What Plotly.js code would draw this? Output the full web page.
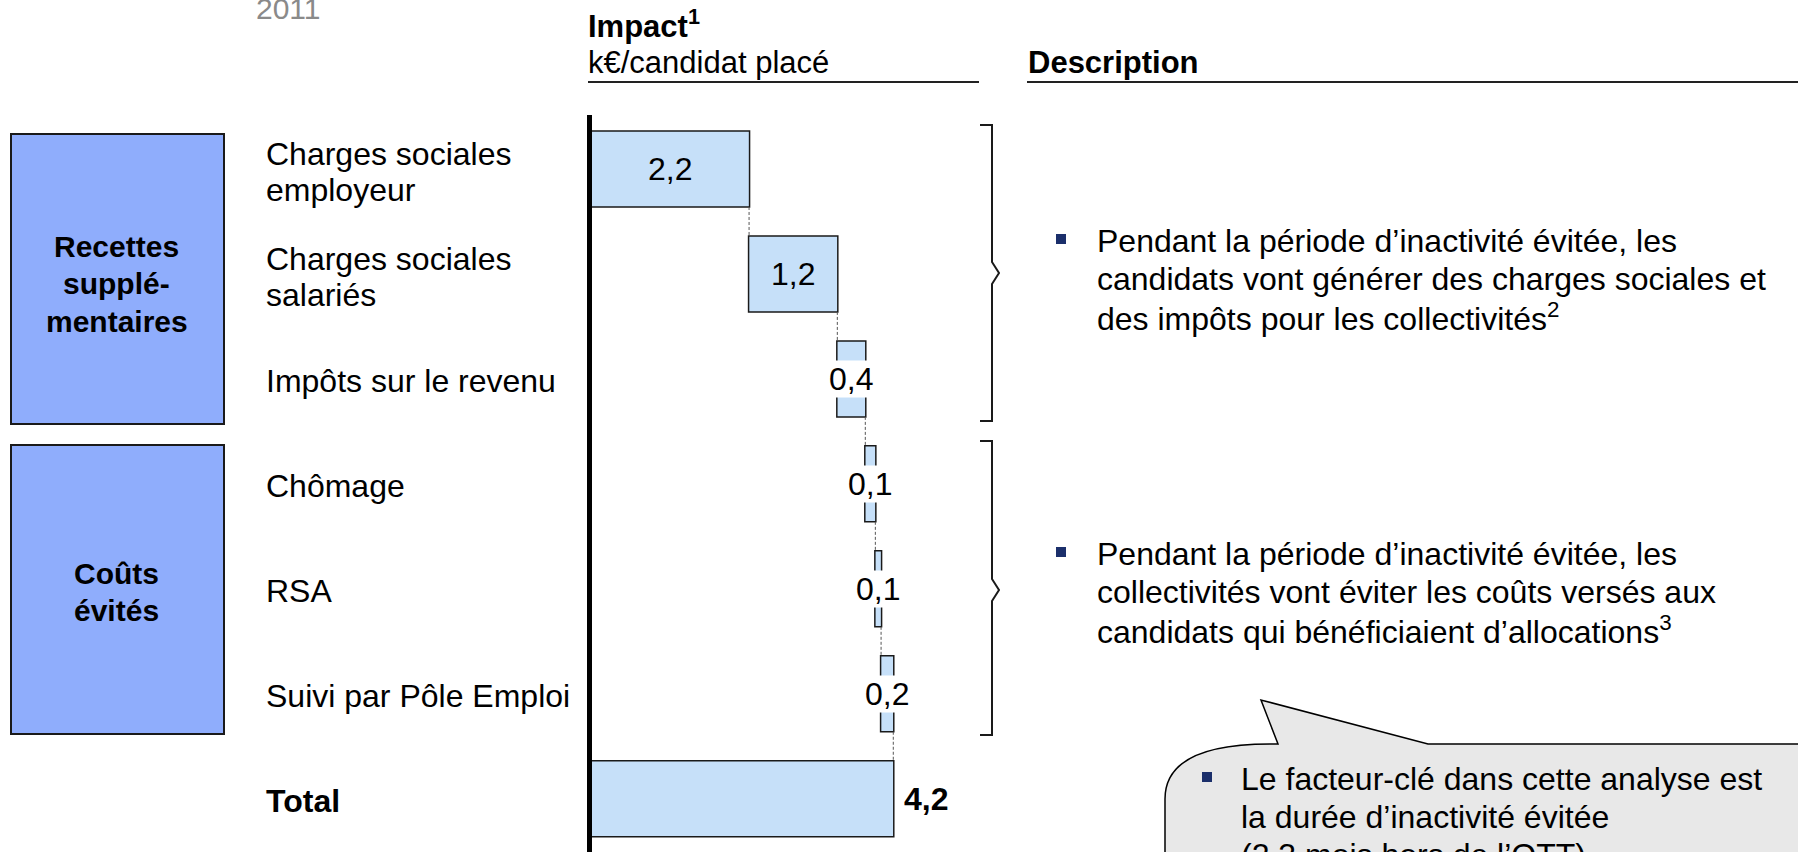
<!DOCTYPE html>
<html>
<head>
<meta charset="utf-8">
<script src="https://cdn.plot.ly/plotly-3.0.1.min.js"></script>
<style>html,body{margin:0;padding:0;background:#fff;}#chart{width:1798px;height:852px;}</style>
</head>
<body>
<div id="chart"></div>
<script>
// ---------- data ----------
const categories = ["Charges sociales employeur", "Charges sociales salariés", "Impôts sur le revenu", "Chômage", "RSA", "Suivi par Pôle Emploi", "Total"];
const categoryLines = [["Charges sociales", "employeur"], ["Charges sociales", "salariés"], ["Impôts sur le revenu"], ["Chômage"], ["RSA"], ["Suivi par Pôle Emploi"], ["<b>Total</b>"]];
const values = [2.21, 1.23, 0.39, 0.14, 0.08, 0.17];
const valueLabels = ["2,2", "1,2", "0,4", "0,1", "0,1", "0,2"];
const totalLabel = "4,2";
const groupNames = [["Recettes", "supplé-", "mentaires"], ["Coûts", "évités"]];
const descRecettes = ["Pendant la période d’inactivité évitée, les", "candidats vont générer des charges sociales et", "des impôts pour les collectivités<sup>2</sup>"];
const descCouts = ["Pendant la période d’inactivité évitée, les", "collectivités vont éviter les coûts versés aux", "candidats qui bénéficiaient d’allocations<sup>3</sup>"];
const calloutLines = ["Le facteur-clé dans cette analyse est", "la durée d’inactivité évitée", "(2,3 mois hors de l’OTT)"];
const headerTitle = "Impact<sup>1</sup>";
const headerUnit = "k€/candidat placé";
const headerDesc = "Description";
const yearLabel = "2011";

// ---------- helpers ----------
const W = 1798, H = 852;
const FONT = "Liberation Sans, Arial, sans-serif";
const px = x => x / W, py = y => 1 - y / H;
function T(text, x, y, o) {
  return Object.assign({xref: 'paper', yref: 'paper', x: px(x), y: py(y), text: text, showarrow: false,
    xanchor: 'left', yanchor: 'middle', borderpad: 0, font: {family: FONT, size: 32, color: '#000'}}, o || {});
}
function P(pts) { return pts.map((p, i) => (i ? 'L' : 'M') + px(p[0]) + ',' + py(p[1])).join(' '); }

const BAR_FILL = '#c6e0f9', EDGE = '#1a1a1a', BOX_FILL = '#8fadfc', NAVY = '#1b2f6b';

// ---------- trace ----------
const measures = values.map(() => 'relative').concat(['total']);
const trace = {
  type: 'waterfall', orientation: 'h',
  y: categories, x: values.concat([0]), measure: measures,
  textinfo: 'none', hoverinfo: 'skip',
  connector: {mode: 'between', line: {color: '#555', width: 1, dash: '3px,2px'}},
  increasing: {marker: {color: BAR_FILL, line: {color: EDGE, width: 1.5}}},
  decreasing: {marker: {color: BAR_FILL, line: {color: EDGE, width: 1.5}}},
  totals: {marker: {color: BAR_FILL, line: {color: EDGE, width: 1.5}}}
};

// ---------- annotations ----------
const ann = [];
let cum = 0;
values.forEach((v, i) => {
  const mid = cum + v / 2; cum += v;
  const narrow = v < 0.7;
  ann.push({xref: 'x', yref: 'y', x: mid, y: categories[i], text: valueLabels[i], showarrow: false,
    xanchor: 'center', yanchor: 'middle', borderpad: 0, bgcolor: narrow ? '#ffffff' : 'rgba(0,0,0,0)',
    font: {family: FONT, size: 32, color: '#000'}});
});
ann.push({xref: 'x', yref: 'y', x: cum, y: categories[6], text: '<b>' + totalLabel + '</b>', showarrow: false,
  xanchor: 'left', yanchor: 'middle', xshift: 9, font: {family: FONT, size: 32, color: '#000'}});
categoryLines.forEach((lines, i) => {
  const shifts = lines.length === 2 ? [15, -21] : [-2];
  lines.forEach((l, j) => ann.push({xref: 'paper', yref: 'y', x: px(265), y: categories[i], yshift: shifts[j],
    text: l, showarrow: false, xanchor: 'left', yanchor: 'middle', borderpad: 0, font: {family: FONT, size: 32, color: '#000'}}));
});
const groupCenters = [284, 592];
groupNames.forEach((lines, g) => {
  const n = lines.length;
  lines.forEach((l, j) => ann.push(T('<b>' + l + '</b>', 117, groupCenters[g] + (j - (n - 1) / 2) * 37.5, {xanchor: 'center', font: {family: FONT, size: 30, color: '#000'}})));
});
ann.push(T(yearLabel, 255, 8, {font: {family: FONT, size: 30, color: '#8a8a8a'}}));
ann.push(T('<b>' + headerTitle + '</b>', 587, 24, {font: {family: FONT, size: 31, color: '#000'}}));
ann.push(T(headerUnit, 587, 62, {font: {family: FONT, size: 31, color: '#000'}}));
ann.push(T('<b>' + headerDesc + '</b>', 1027, 62, {font: {family: FONT, size: 31, color: '#000'}}));
descRecettes.forEach((l, j) => ann.push(T(l, 1096, 241 + j * 37.8)));
descCouts.forEach((l, j) => ann.push(T(l, 1096, 554 + j * 37.8)));
calloutLines.forEach((l, j) => ann.push(T(l, 1240, 779 + j * 37.8)));

// ---------- shapes ----------
const shapes = [];
shapes.push({type: 'rect', xref: 'paper', yref: 'paper', x0: px(11), x1: px(224), y0: py(134), y1: py(424), fillcolor: BOX_FILL, line: {color: EDGE, width: 2}, layer: 'below'});
shapes.push({type: 'rect', xref: 'paper', yref: 'paper', x0: px(11), x1: px(224), y0: py(445), y1: py(734), fillcolor: BOX_FILL, line: {color: EDGE, width: 2}, layer: 'below'});
shapes.push({type: 'line', xref: 'paper', yref: 'paper', x0: px(588), x1: px(979), y0: py(82), y1: py(82), line: {color: '#222', width: 2}});
shapes.push({type: 'line', xref: 'paper', yref: 'paper', x0: px(1027), x1: px(1798), y0: py(82), y1: py(82), line: {color: '#222', width: 2}});
// value axis (zero line)
shapes.push({type: 'line', xref: 'paper', yref: 'paper', x0: px(589.5), x1: px(589.5), y0: py(115), y1: 0, line: {color: '#000', width: 5}, layer: 'above'});
function bracket(t, b, mid) {
  return {type: 'path', xref: 'paper', yref: 'paper', line: {color: EDGE, width: 2},
    path: P([[980, t], [992, t], [992, mid - 11], [999, mid], [992, mid + 11], [992, b], [980, b]])};
}
shapes.push(bracket(125, 421, 273));
shapes.push(bracket(441, 735, 590));
[[1061, 239], [1061, 552], [1207, 777]].forEach(b => shapes.push({type: 'rect', xref: 'paper', yref: 'paper',
  x0: px(b[0] - 5), x1: px(b[0] + 5), y0: py(b[1] - 5), y1: py(b[1] + 5), fillcolor: NAVY, line: {width: 0}}));
const bTop = 744, bLeft = 1165;
const bubblePath = 'M' + px(bLeft) + ',' + py(900) + ' L' + px(bLeft) + ',' + py(bTop + 55) +
  ' Q' + px(bLeft) + ',' + py(bTop) + ' ' + px(bLeft + 105) + ',' + py(bTop) +
  ' L' + px(1278) + ',' + py(bTop) + ' L' + px(1261) + ',' + py(700) + ' L' + px(1428) + ',' + py(bTop) +
  ' L' + px(1900) + ',' + py(bTop) + ' L' + px(1900) + ',' + py(900) + ' Z';
shapes.push({type: 'path', xref: 'paper', yref: 'paper', path: bubblePath, fillcolor: '#e8e8e8', line: {color: '#000', width: 1.5}, layer: 'below'});

// ---------- layout ----------
const xScale = 71.75;
const x0px = 590.5;
const layout = {
  width: W, height: H, margin: {l: 0, r: 0, t: 0, b: 0},
  paper_bgcolor: '#fff', plot_bgcolor: 'rgba(0,0,0,0)', showlegend: false,
  waterfallgap: 0.276,
  xaxis: {domain: [px(x0px), px(x0px + 5.5 * xScale)], range: [0, 5.5], visible: false, fixedrange: true},
  yaxis: {domain: [py(851.2), py(116.5)], type: 'category', categoryarray: categories, categoryorder: 'array',
    range: [6.5, -0.5], autorange: false, visible: false, fixedrange: true},
  shapes: shapes, annotations: ann,
  font: {family: FONT}
};
Plotly.newPlot('chart', [trace], layout, {displayModeBar: false, staticPlot: true});
</script>
</body>
</html>
